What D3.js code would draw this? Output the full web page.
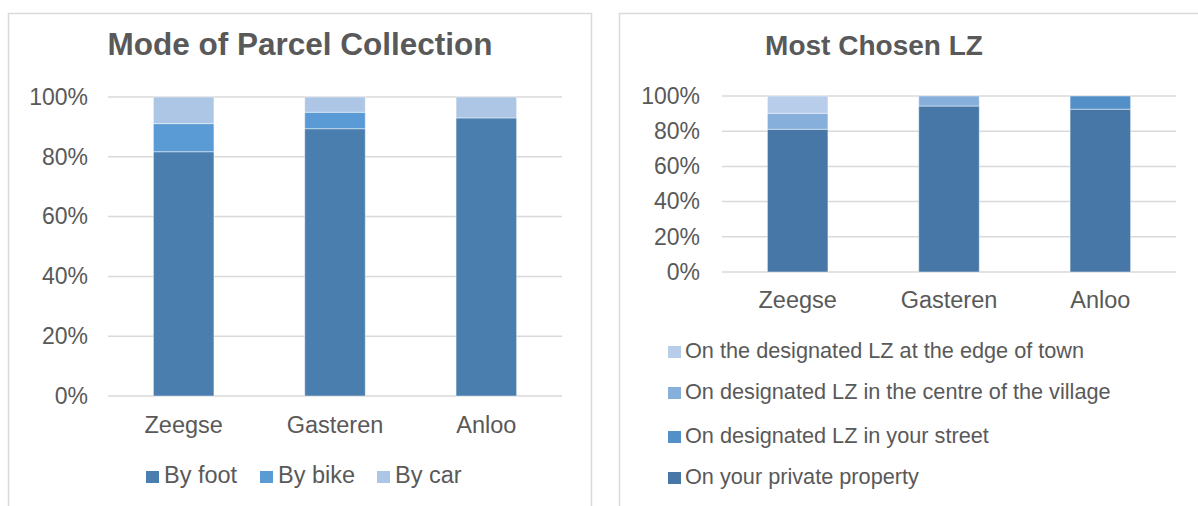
<!DOCTYPE html>
<html>
<head>
<meta charset="utf-8">
<script src="https://cdn.jsdelivr.net/npm/d3@7"></script>
<style>
  html, body { margin: 0; padding: 0; background: #fff; }
  svg { display: block; font-family: "Liberation Sans", Arial, sans-serif; }
</style>
</head>
<body>
<svg id="chart" width="1198" height="506"></svg>
<script>
// ---- data ----
const villages = ["Zeegse", "Gasteren", "Anloo"];
const yTicks = [0, 0.2, 0.4, 0.6, 0.8, 1.0];

const modeSeries = ["By foot", "By bike", "By car"];
const byFoot = [81.7, 89.4, 93.0];
const byBike = [9.4, 5.5, 0];
const byCar  = [8.9, 5.1, 7.0];
const modeColors = ["#4a7eae", "#5b9bd5", "#adc6e6"];

const lzSeries = ["On your private property", "On designated LZ in your street",
                  "On designated LZ in the centre of the village", "On the designated LZ at the edge of town"];
const lzPrivate = [81.1, 94.3, 92.5];
const lzStreet  = [0, 0, 7.5];
const lzCentre  = [9.1, 5.7, 0];
const lzEdge    = [9.8, 0, 0];
const lzColors = ["#4677a6", "#5490c8", "#86afdc", "#b8cde9"];

const svg = d3.select("#chart");
const textColor = "#595959";
const gridColor = "#d9d9d9";

function panel(opts) {
  const g = svg.append("g");
  // frame
  g.append("rect")
    .attr("x", opts.frame[0] + 0.5).attr("y", opts.frame[1] + 0.5)
    .attr("width", opts.frame[2]).attr("height", opts.frame[3])
    .attr("fill", "none").attr("stroke", gridColor).attr("stroke-width", 1.5);
  // title
  g.append("text")
    .attr("x", opts.titleX).attr("y", 55)
    .attr("text-anchor", "middle")
    .attr("font-size", opts.titleSize).attr("font-weight", "bold")
    .attr("fill", textColor)
    .text(opts.title);

  const x = d3.scaleBand().domain(villages)
    .range([opts.plot[0], opts.plot[1]]).paddingInner(0.6).paddingOuter(0.3);
  const y = d3.scaleLinear().domain([0, 1]).range([opts.plot[3], opts.plot[2]]);

  // gridlines
  g.append("g").selectAll("line").data(yTicks).join("line")
    .attr("x1", opts.plot[0]).attr("x2", opts.plot[1])
    .attr("y1", d => y(d)).attr("y2", d => y(d))
    .attr("stroke", gridColor).attr("stroke-width", 1.5);

  // y axis labels
  const yAxis = d3.axisLeft(y).tickValues(yTicks).tickFormat(d3.format(".0%")).tickSize(0).tickPadding(0);
  const ya = g.append("g").attr("transform", `translate(${opts.tickX},0)`).call(yAxis);
  ya.select(".domain").remove();
  ya.selectAll("text").attr("font-size", 23).attr("fill", textColor)
    .attr("font-family", "Liberation Sans, Arial, sans-serif");

  // stacked bars
  const rows = villages.map((v, i) => {
    const o = { village: v };
    opts.series.forEach((s, k) => { o[s] = opts.values[k][i] / 100; });
    return o;
  });
  const stacked = d3.stack().keys(opts.series)(rows);
  g.append("g").selectAll("g").data(stacked).join("g")
    .attr("fill", (d, k) => opts.colors[k])
    .selectAll("rect").data(d => d).join("rect")
    .attr("x", d => x(d.data.village))
    .attr("width", x.bandwidth())
    .attr("y", d => y(d[1]))
    .attr("height", d => Math.max(0, y(d[0]) - y(d[1])))
    .attr("stroke", "rgba(255,255,255,0.45)").attr("stroke-width", d => (d[1] - d[0]) > 0 ? 1 : 0);

  // x axis labels
  const xAxis = d3.axisBottom(x).tickSize(0).tickPadding(0);
  const xa = g.append("g").attr("transform", `translate(0,${opts.catY})`).call(xAxis);
  xa.select(".domain").remove();
  xa.selectAll("text").attr("font-size", 23.5).attr("fill", textColor).attr("dy", "0")
    .attr("font-family", "Liberation Sans, Arial, sans-serif");
  return g;
}

// Left panel
const left = panel({
  frame: [8, 13, 583, 520], title: "Mode of Parcel Collection", titleX: 300, titleSize: 31.5,
  plot: [108, 562, 97, 396], tickX: 88, catY: 433,
  series: modeSeries, values: [byFoot, byBike, byCar], colors: modeColors
});
// left legend (horizontal)
const legX = [146, 260, 377];
const lg = left.append("g").selectAll("g").data(modeSeries).join("g")
  .attr("transform", (d, i) => `translate(${legX[i]},471)`);
lg.append("rect").attr("width", 13).attr("height", 12).attr("fill", (d, i) => modeColors[i]);
lg.append("text").attr("x", 18).attr("y", 11.5).attr("font-size", 23.5).attr("fill", textColor).text(d => d);

// Right panel
const right = panel({
  frame: [619, 13, 620, 520], title: "Most Chosen LZ", titleX: 874, titleSize: 28,
  plot: [722, 1176, 96, 272], tickX: 700, catY: 308,
  series: lzSeries, values: [lzPrivate, lzStreet, lzCentre, lzEdge], colors: lzColors
});
// right legend (vertical, reversed order)
const legOrder = [3, 2, 1, 0];
const legY = [346, 387, 431, 472];
const rg = right.append("g").selectAll("g").data(legOrder).join("g")
  .attr("transform", (k, i) => `translate(668,${legY[i]})`);
rg.append("rect").attr("width", 13).attr("height", 12).attr("fill", k => lzColors[k]);
rg.append("text").attr("x", 17).attr("y", 11.5).attr("font-size", 21.7).attr("fill", textColor).text(k => lzSeries[k]);
</script>
</body>
</html>
